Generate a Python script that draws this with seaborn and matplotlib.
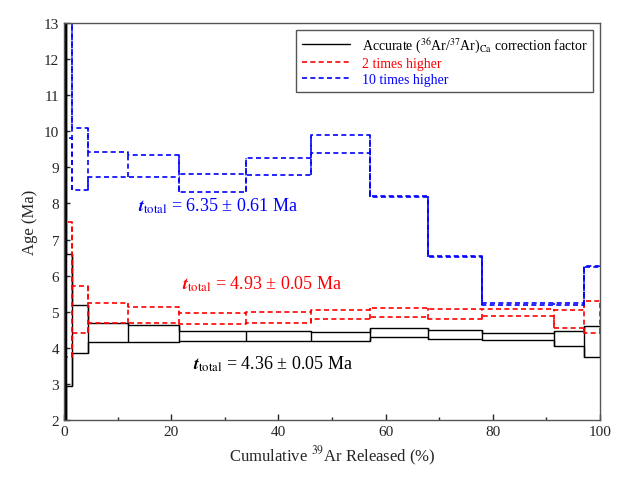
import numpy as np
import seaborn as sns
import matplotlib.pyplot as plt

# cumulative 39Ar step boundaries (%)
edges = [0, 0.3, 1.5, 4.5, 12, 21.5, 34, 46, 57, 68, 78, 91.5, 97, 100]

# age plateau boxes (Ma): upper / lower bounds per step
black_hi = [20, 6.6, 5.18, 4.69, 4.63, 4.46, 4.46, 4.43, 4.54, 4.49, 4.40, 4.46, 4.60]
black_lo = [0, 2.94, 3.85, 4.15, 4.16, 4.18, 4.18, 4.19, 4.29, 4.24, 4.21, 4.04, 3.74]
red_hi = [20, 7.5, 5.72, 5.23, 5.14, 4.96, 5.00, 5.05, 5.10, 5.07, 5.08, 5.05, 5.30]
red_lo = [0, 3.74, 4.40, 4.68, 4.69, 4.65, 4.70, 4.79, 4.86, 4.80, 4.87, 4.55, 4.42]
blue_hi = [20, 14.0, 10.1, 9.42, 9.33, 8.82, 9.27, 9.90, 8.22, 6.55, 5.24, 5.24, 6.27]
blue_lo = [0, 9.80, 8.38, 8.72, 8.72, 8.33, 8.78, 9.40, 8.18, 6.51, 5.20, 5.20, 6.23]

sns.set_theme(style="ticks")
plt.rcParams['font.family'] = ['Liberation Serif', 'DejaVu Serif']
plt.rcParams['mathtext.fontset'] = 'stix'

fig = plt.figure(figsize=(6.33, 4.85), dpi=100)
ax = fig.add_axes([64/633, 1-421/485, 536/633, 397/485])


def draw_boxes(hi, lo, color, ls, lw, label):
    x = np.array(edges)
    ax.step(x, hi + [hi[-1]], where='post', color=color, ls=ls, lw=lw, label=label)
    ax.step(x, lo + [lo[-1]], where='post', color=color, ls=ls, lw=lw)
    for i, xe in enumerate(edges):
        a = [lo[j] for j in (i-1, i) if 0 <= j < len(lo)]
        b = [hi[j] for j in (i-1, i) if 0 <= j < len(hi)]
        ax.vlines(xe, min(a), max(b), color=color, ls=ls, lw=lw)


draw_boxes(black_hi, black_lo, 'black', '-', 1.0,
           r'Accurate ($^{36}$Ar/$^{37}$Ar)$_{\rm Ca}$ correction factor')
draw_boxes(red_hi, red_lo, 'red', (0, (3, 2)), 1.2, '2 times higher')
draw_boxes(blue_hi, blue_lo, 'blue', (0, (3, 2)), 1.2, '10 times higher')
ax.vlines(0.1, 2, 13, color='black', lw=3)

ax.set_xlim(0, 100)
ax.set_ylim(2, 13)
ax.set_xticks(range(0, 101, 20))
ax.set_xticks(range(0, 101, 10), minor=True)
ax.set_yticks(range(2, 14))
ax.tick_params(labelsize=11, direction='in', length=4, width=1)
ax.tick_params(which='minor', direction='in', length=2.5)
ax.set_xlabel(r'Cumulative $^{39}$Ar Released (%)', fontsize=12)
ax.set_ylabel('Age (Ma)', fontsize=12)
for s in ax.spines.values():
    s.set_color('#555555')
    s.set_linewidth(1)

ax.text(13.8, 7.95, r'$\boldsymbol{t}_{\rm total}$ = 6.35 ± 0.61 Ma', color='blue',
        fontsize=13, va='center')
ax.text(22, 5.8, r'$\boldsymbol{t}_{\rm total}$ = 4.93 ± 0.05 Ma', color='red',
        fontsize=13, va='center')
ax.text(24, 3.58, r'$\boldsymbol{t}_{\rm total}$ = 4.36 ± 0.05 Ma', color='black',
        fontsize=13, va='center')

leg = ax.legend(loc='upper right', fontsize=10, fancybox=False, framealpha=1,
                edgecolor='#555555', handlelength=3.5, borderpad=0.4, labelspacing=0.2)
for t, c in zip(leg.get_texts(), ['black', 'red', 'blue']):
    t.set_color(c)

fig.savefig('out.png', dpi=100)
